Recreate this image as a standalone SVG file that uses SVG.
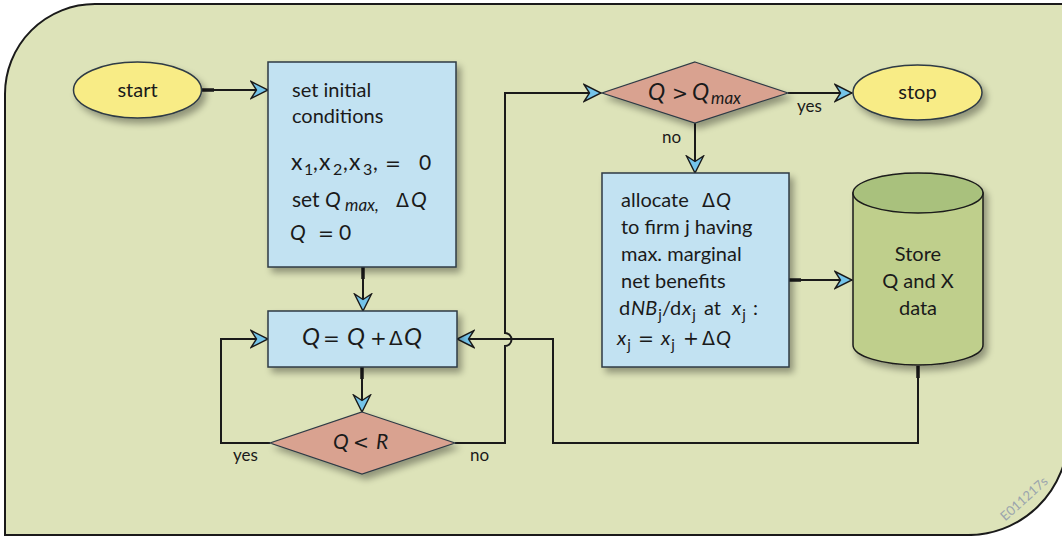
<svg xmlns="http://www.w3.org/2000/svg" width="1062" height="536" viewBox="0 0 1062 536">
<defs>
<style>
text{font-family:Lato,"Open Sans","Liberation Sans",sans-serif;fill:#1a1a1a;}
.t{font-size:20px;}
.m{font-size:21px;}
.lbl{font-size:17px;}
.it{font-style:italic;}
.sub{font-size:15px;}
.op{font-family:"DejaVu Sans","Liberation Sans",sans-serif;font-size:19px;}
.box{fill:#c2e2f2;stroke:#2f3b45;stroke-width:1.5;}
.term{fill:#f8ec86;stroke:#2f3b45;stroke-width:1.5;}
.dec{fill:#d9a290;stroke:#2f3b45;stroke-width:1.2;}
.conn{fill:none;stroke:#1a1a1a;stroke-width:2;}
</style>
<filter id="sh" x="-20%" y="-20%" width="150%" height="150%">
<feGaussianBlur in="SourceAlpha" stdDeviation="3.5"/>
<feOffset dx="4" dy="5" result="b"/>
<feComponentTransfer><feFuncA type="linear" slope="0.35"/></feComponentTransfer>
<feMerge><feMergeNode/><feMergeNode in="SourceGraphic"/></feMerge>
</filter>
<marker id="ah" viewBox="0 0 19 20" refX="18" refY="10" markerWidth="19" markerHeight="20" markerUnits="userSpaceOnUse" orient="auto">
<path d="M1,1.5 L18,10 L1,18.5 L6.5,10 Z" fill="#74c4ea" stroke="#1a1a1a" stroke-width="1.4" stroke-linejoin="miter"/>
</marker>
<marker id="st" viewBox="0 0 12 3.5" refX="0" refY="1.75" markerWidth="12" markerHeight="3.5" markerUnits="userSpaceOnUse" orient="auto">
<rect x="0" y="0" width="12" height="3.5" fill="#1a1a1a"/>
</marker>
</defs>
<path d="M5,535 L5,94 A90,90 0 0 1 95,4 L1068,4 L1068,435 A100,100 0 0 1 965,535 Z" fill="#dde3b9" stroke="#1a1a1a" stroke-width="2"/>
<text x="1027" y="502" transform="rotate(-42 1027 502)" text-anchor="middle" style="font-size:13px;fill:#9aa3ad;">E011217s</text>

<g id="connectors">
<path class="conn" d="M202,90 H268" marker-start="url(#st)" marker-end="url(#ah)"/>
<path class="conn" d="M363,267 V311" marker-start="url(#st)" marker-end="url(#ah)"/>
<path class="conn" d="M362,367 V412" marker-start="url(#st)" marker-end="url(#ah)"/>
<path class="conn" d="M270,443 H221 V339 H268" marker-end="url(#ah)"/>
<path class="conn" d="M455,443 H505 V346 A6.5,6.5 0 0 0 505,333 V93 H601" marker-end="url(#ah)"/>
<path class="conn" d="M788,93 H852" marker-end="url(#ah)"/>
<path class="conn" d="M695,123 V173" marker-end="url(#ah)"/>
<path class="conn" d="M789,280 H852" marker-start="url(#st)" marker-end="url(#ah)"/>
<path class="conn" d="M918,366 V443 H553 V339 H457" marker-start="url(#st)" marker-end="url(#ah)"/>
<text class="lbl" x="233" y="461">yes</text>
<text class="lbl" x="470" y="461">no</text>
<text class="lbl" x="797" y="112">yes</text>
<text class="lbl" x="662" y="143">no</text>
</g>

<g id="start">
<ellipse class="term" cx="137.5" cy="90" rx="64" ry="28" filter="url(#sh)"/>
<text class="t" x="137.5" y="97" text-anchor="middle">start</text>
</g>

<g id="init">
<rect class="box" x="268" y="62" width="188" height="205" filter="url(#sh)"/>
<text class="t" x="292" y="97">set initial</text>
<text class="t" x="292" y="123">conditions</text>
<text class="m" y="170"><tspan x="291" style="font-size:23px">x</tspan><tspan class="sub" x="304" dy="5" style="font-size:16px">1</tspan><tspan x="313" dy="-5">,</tspan><tspan x="319" style="font-size:23px">x</tspan><tspan class="sub" x="333" dy="5" style="font-size:16px">2</tspan><tspan x="343" dy="-5">,</tspan><tspan x="349" style="font-size:23px">x</tspan><tspan class="sub" x="363" dy="5" style="font-size:16px">3</tspan><tspan x="373" dy="-5">,</tspan><tspan class="op" x="385">=</tspan><tspan x="419">0</tspan></text>
<text class="m" y="207"><tspan x="292">set</tspan><tspan class="it" x="325">Q</tspan><tspan class="it" x="345" dy="4" style="font-size:17px">max,</tspan><tspan class="op" x="396" dy="-4">Δ</tspan><tspan class="it" x="411">Q</tspan></text>
<text class="m" y="240"><tspan class="it" x="290">Q</tspan><tspan class="op" x="318">=</tspan><tspan x="339">0</tspan></text>
</g>

<g id="increment">
<rect class="box" x="268" y="311" width="189" height="56" filter="url(#sh)"/>
<text style="font-size:24px" y="345"><tspan class="it" x="302">Q</tspan><tspan class="op" x="323" style="font-size:20px">=</tspan><tspan class="it" x="347">Q</tspan><tspan class="op" x="370" style="font-size:20px">+</tspan><tspan class="op" x="389" style="font-size:20px">Δ</tspan><tspan class="it" x="404">Q</tspan></text>
</g>

<g id="testR">
<polygon class="dec" points="362,412 455,443 362,474 270,443" filter="url(#sh)"/>
<text class="m" y="449"><tspan class="it" x="333">Q</tspan><tspan class="op" x="353">&lt;</tspan><tspan class="it" x="376">R</tspan></text>
</g>

<g id="testQmax">
<polygon class="dec" points="695,62 788,93 695,123 602,93" filter="url(#sh)"/>
<text class="m" y="100"><tspan class="it" x="648" style="font-size:23px">Q</tspan><tspan class="op" x="672">&gt;</tspan><tspan class="it" x="692" style="font-size:23px">Q</tspan><tspan class="it" x="711" dy="4" style="font-size:17px">max</tspan></text>
</g>

<g id="stop">
<ellipse class="term" cx="917.5" cy="92.5" rx="64.5" ry="27.5" filter="url(#sh)"/>
<text class="t" x="917.5" y="99" text-anchor="middle">stop</text>
</g>

<g id="allocate">
<rect class="box" x="602" y="173" width="187" height="194" filter="url(#sh)"/>
<text class="t" y="207"><tspan x="621">allocate</tspan><tspan class="op" x="702">Δ</tspan><tspan class="it" x="716">Q</tspan></text>
<text class="t" x="621" y="234">to firm j having</text>
<text class="t" x="621" y="261">max. marginal</text>
<text class="t" x="621" y="288">net benefits</text>
<text class="t" y="315"><tspan x="619">d</tspan><tspan class="it" x="631">NB</tspan><tspan class="sub" dx="1" dy="5">j</tspan><tspan x="662" dy="-5">/d</tspan><tspan class="it" x="682">x</tspan><tspan class="sub" dx="1" dy="5">j</tspan><tspan x="704" dy="-5">at</tspan><tspan class="it" x="732">x</tspan><tspan class="sub" dx="1" dy="5">j</tspan><tspan x="753" dy="-5">:</tspan></text>
<text class="t" y="345"><tspan class="it" x="617">x</tspan><tspan class="sub" dx="1" dy="5">j</tspan><tspan class="op" x="638" dy="-5">=</tspan><tspan class="it" x="661">x</tspan><tspan class="sub" dx="1" dy="5">j</tspan><tspan class="op" x="683" dy="-5">+</tspan><tspan class="op" x="702">Δ</tspan><tspan class="it" x="716">Q</tspan></text>
</g>

<g id="store">
<g filter="url(#sh)">
<path d="M853,193 V345 A65,20 0 0 0 983,345 V193 Z" fill="#bfcf8c" stroke="#1a1a1a" stroke-width="1.5"/>
<ellipse cx="918" cy="193" rx="65" ry="20" fill="#a9c17d" stroke="#1a1a1a" stroke-width="1.5"/>
</g>
<text class="t" x="918" y="261" text-anchor="middle">Store</text>
<text class="t" x="918" y="288" text-anchor="middle">Q and X</text>
<text class="t" x="918" y="315" text-anchor="middle">data</text>
</g>
</svg>
